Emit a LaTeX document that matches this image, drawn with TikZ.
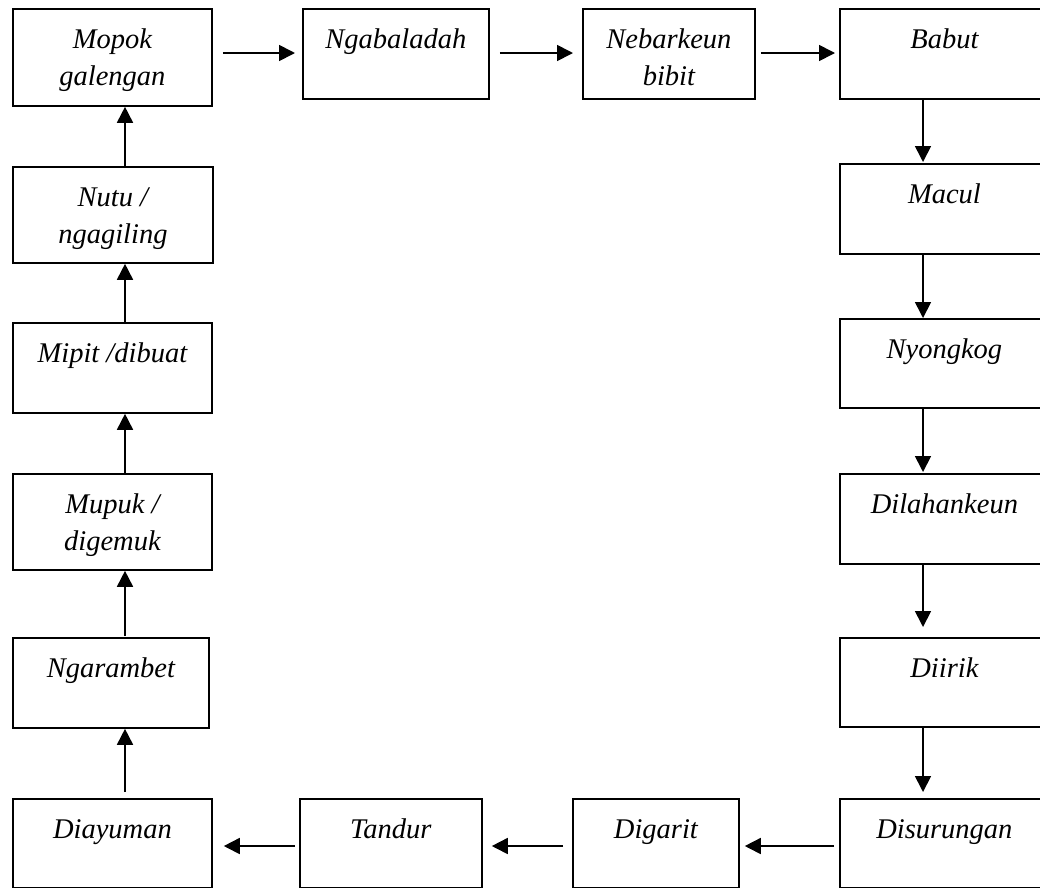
\documentclass[tikz,border=0pt]{standalone}
\usepackage{fontspec}
\setmainfont{Liberation Serif}
\usetikzlibrary{arrows.meta}
\newcommand\stepnode[6]{\node[stepbox] (#1) at (#2,#3) {\parbox[t][#5pt][t]{#4pt}{\centering\rule{0pt}{40pt}#6}};}
\begin{document}
\begin{tikzpicture}[x=1pt,y=-1pt,
  stepbox/.style={draw, line width=1.8pt, inner sep=0pt, anchor=north west,
    font=\fontsize{28.5}{37}\selectfont\itshape},
  arr/.style={line width=1.7pt, -{Triangle[length=16pt,width=16pt]}}]
\useasboundingbox (0,0) rectangle (1040,887);
\coordinate (ty) at (0,53);
\coordinate (by) at (0,846);
\coordinate (lx) at (125,0);
\coordinate (rx) at (923,0);
% top row
\stepnode{mopok}{12}{8}{199}{97}{Mopok\\galengan}
\stepnode{ngab}{302}{8}{186}{90}{Ngabaladah}
\stepnode{nebar}{582}{8}{172}{90}{Nebarkeun\\bibit}
\stepnode{babut}{839}{8}{209}{90}{Babut}
% right column
\stepnode{macul}{839}{163}{209}{90}{Macul}
\stepnode{nyong}{839}{318}{209}{89}{Nyongkog}
\stepnode{dilah}{839}{473}{209}{90}{Dilahankeun}
\stepnode{diirik}{839}{637}{209}{89}{Diirik}
\stepnode{disur}{839}{798}{209}{89}{Disurungan}
% bottom row
\stepnode{digarit}{572}{798}{166}{89}{Digarit}
\stepnode{tandur}{299}{798}{182}{89}{Tandur}
\stepnode{diayu}{12}{798}{199}{88.5}{Diayuman}
% left column
\stepnode{ngaram}{12}{637}{196}{90}{Ngarambet}
\stepnode{mupuk}{12}{473}{199}{96}{Mupuk /\\digemuk}
\stepnode{mipit}{12}{322}{199}{90}{Mipit /dibuat}
\stepnode{nutu}{12}{166}{200}{96}{Nutu /\\ngagiling}
% connectors
\draw[arr, shorten <=10pt, shorten >=7pt] (mopok.east |- ty) -- (ngab.west |- ty);
\draw[arr, shorten <=10pt, shorten >=9pt] (ngab.east |- ty) -- (nebar.west |- ty);
\draw[arr, shorten <=5pt, shorten >=4pt] (nebar.east |- ty) -- (babut.west |- ty);
\draw[arr, shorten >=1pt] (babut.south -| rx) -- (macul.north -| rx);
\draw[arr] (macul.south -| rx) -- (nyong.north -| rx);
\draw[arr, shorten >=1pt] (nyong.south -| rx) -- (dilah.north -| rx);
\draw[arr, shorten >=10pt] (dilah.south -| rx) -- (diirik.north -| rx);
\draw[arr, shorten >=6pt] (diirik.south -| rx) -- (disur.north -| rx);
\draw[arr, shorten <=5pt, shorten >=5pt] (disur.west |- by) -- (digarit.east |- by);
\draw[arr, shorten <=9pt, shorten >=9pt] (digarit.west |- by) -- (tandur.east |- by);
\draw[arr, shorten <=4pt, shorten >=11pt] (tandur.west |- by) -- (diayu.east |- by);
\draw[arr, shorten <=6pt] (diayu.north -| lx) -- (ngaram.south -| lx);
\draw[arr, shorten <=1pt] (ngaram.north -| lx) -- (mupuk.south -| lx);
\draw[arr] (mupuk.north -| lx) -- (mipit.south -| lx);
\draw[arr] (mipit.north -| lx) -- (nutu.south -| lx);
\draw[arr] (nutu.north -| lx) -- (mopok.south -| lx);
\end{tikzpicture}
\end{document}
